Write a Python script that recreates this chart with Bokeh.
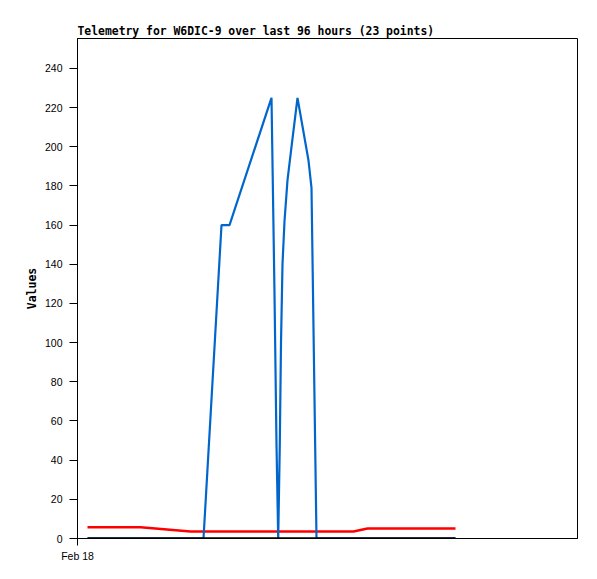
from bokeh.plotting import figure
from bokeh.models import Range1d, FixedTicker
from bokeh.embed import file_html
from bokeh.resources import INLINE

# hours since Feb 18 00:00
hours = [2.4, 15.12, 27.12, 30.24, 34.56, 36.48, 46.56, 47.28, 47.76, 48.17,
         48.55, 48.84, 49.2, 49.68, 50.4, 51.36, 52.8, 55.44, 56.16, 57.36,
         66.24, 69.6, 90.72]
series_blue = [0, 0, 0, 0, 160, 160, 225, 125, 48, 0,
               48, 100, 140, 162, 183, 200, 225, 193, 179, 0,
               0, 0, 0]
series_red = [5.8, 5.8, 3.6, 3.6, 3.6, 3.6, 3.6, 3.6, 3.6, 3.6,
              3.6, 3.6, 3.6, 3.6, 3.6, 3.6, 3.6, 3.6, 3.6, 3.6,
              3.6, 5.1, 5.1]
series_black = [0] * 23
y_ticks = list(range(0, 241, 20))
x_tick_hours = [0]
x_tick_labels = {0: "Feb 18"}

p = figure(width=597, height=579, output_backend="svg", toolbar_location=None,
           x_range=Range1d(0, 120), y_range=Range1d(0, 255.3),
           min_border_left=77, min_border_right=20, min_border_top=38,
           min_border_bottom=41,
           title="Telemetry for W6DIC-9 over last 96 hours (23 points)")

p.title.text_font = "DejaVu Sans Mono"
p.title.text_font_size = "11.4px"
p.title.text_font_style = "bold"
p.title.text_color = "black"
p.title.align = "left"
p.title.offset = 0
p.title.standoff = 2

p.outline_line_color = "black"
p.outline_line_width = 1
p.outline_line_alpha = 1
p.xgrid.visible = False
p.ygrid.visible = False
p.background_fill_color = "white"
p.border_fill_color = "white"

p.yaxis.ticker = FixedTicker(ticks=y_ticks)
p.yaxis.major_tick_out = 8
p.yaxis.major_tick_in = 0
p.yaxis.minor_tick_line_color = None
p.yaxis.major_label_text_font = "Liberation Sans"
p.yaxis.major_label_text_font_size = "10.5px"
p.yaxis.major_label_text_color = "black"
p.yaxis.major_label_standoff = 7
p.yaxis.axis_label = "Values"
p.yaxis.axis_label_text_font = "DejaVu Sans Mono"
p.yaxis.axis_label_text_font_style = "bold"
p.yaxis.axis_label_text_font_size = "11.5px"
p.yaxis.axis_label_text_color = "black"
p.yaxis.axis_label_standoff = 3
p.yaxis.axis_line_color = "black"
p.yaxis.major_tick_line_color = "black"

p.xaxis.ticker = FixedTicker(ticks=x_tick_hours)
p.xaxis.major_label_overrides = x_tick_labels
p.xaxis.major_tick_out = 7
p.xaxis.major_tick_in = 0
p.xaxis.minor_tick_line_color = None
p.xaxis.major_label_text_font = "Liberation Sans"
p.xaxis.major_label_text_font_size = "10.5px"
p.xaxis.major_label_text_color = "black"
p.xaxis.major_label_standoff = 4
p.xaxis.axis_line_color = "black"
p.xaxis.major_tick_line_color = "black"

p.line(hours, series_red, line_color="#ff0000", line_width=2.5)
p.line(hours, series_blue, line_color="#0066cc", line_width=2.2)
p.line(hours, series_black, line_color="black", line_width=2.5)

open("out.html", "w").write(file_html(p, INLINE))
